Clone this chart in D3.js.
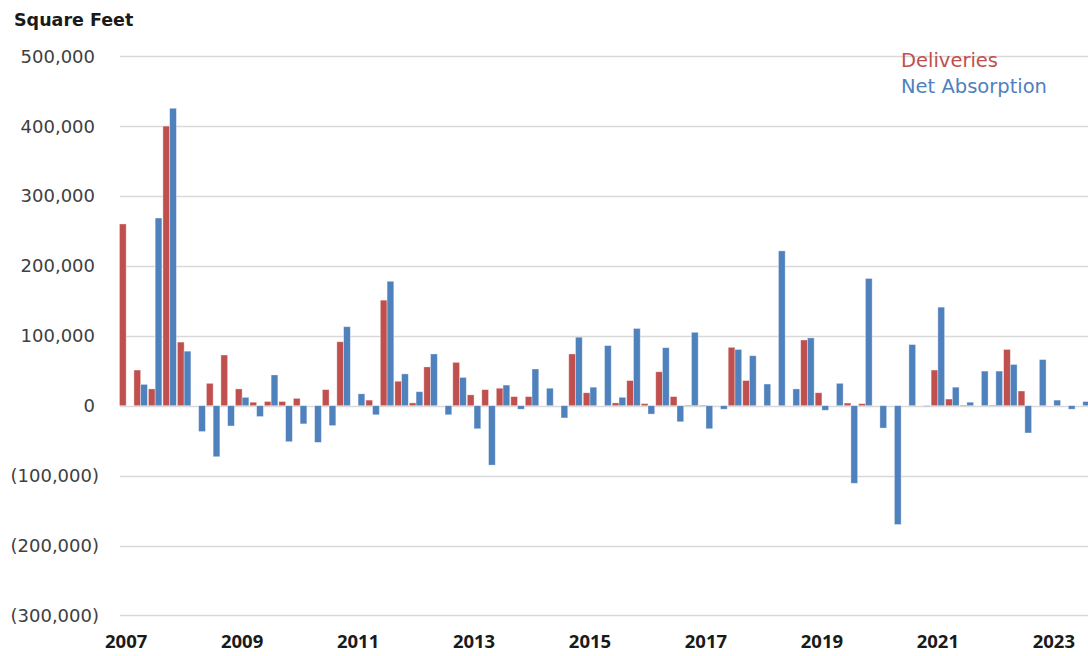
<!DOCTYPE html>
<html>
<head>
<meta charset="utf-8">
<script src="https://cdn.jsdelivr.net/npm/d3@7"></script>
<style>
  body { margin: 0; background: #fff; }
  svg { display: block; }
</style>
</head>
<body>
<div id="chart"></div>
<script>
// quarters 2007 Q1 .. 2023 Q3
const years = d3.range(2007, 2024);
const quarters = [];
years.forEach(y => [1, 2, 3, 4].forEach(q => quarters.push(`${y} Q${q}`)));
quarters.splice(67); // last quarter shown: 2023 Q3

const deliveries = [
  260000, 51000, 24000, 400000, 91000, 0, 32000, 72500, 24000, 5000,
  6000, 6000, 10500, 0, 23000, 91500, 0, 8000, 151000, 35000,
  4000, 55500, 0, 62000, 15500, 23000, 25000, 13000, 13000, 0,
  0, 74000, 18500, 0, 4000, 36000, 3000, 48500, 13000, 1000,
  1000, 0, 83500, 36000, 0, 0, 0, 94000, 18500, 0,
  3800, 2900, 0, 0, 0, 0, 51000, 9500, 1000, 0,
  1000, 80500, 21000, 0, 0, 0, 0
];

const absorption = [
  0, 30500, 268500, 425500, 78000, -37000, -73000, -29000, 12000, -15500,
  44000, -51500, -26000, -52500, -28500, 113000, 17000, -13000, 178000, 45500,
  20000, 74000, -13000, 40500, -33000, -85000, 29500, -5000, 52500, 25000,
  -17500, 98000, 26500, 86000, 12000, 110500, -12000, 83000, -23000, 105000,
  -33000, -5000, 80500, 71500, 31000, 221500, 24000, 97000, -6500, 32000,
  -111000, 182000, -32000, -170000, 87500, -1000, 141000, 26500, 5000, 49500,
  49500, 59000, -39000, 66000, 8000, -5000, 6000
];

const seriesNames = ["Deliveries", "Net Absorption"];
const seriesColors = ["#C0504D", "#4F81BD"];
const yTicks = [-300000, -200000, -100000, 0, 100000, 200000, 300000, 400000, 500000];
const yearLabels = ["2007", "2009", "2011", "2013", "2015", "2017", "2019", "2021", "2023"];

const width = 1088, height = 656;

const svg = d3.select("#chart")
  .append("svg")
  .attr("width", width)
  .attr("height", height);

const x = d3.scaleBand()
  .domain(quarters)
  .range([119, 1090])
  .paddingInner(0.07)
  .paddingOuter(0.03);

const xSub = d3.scaleBand()
  .domain(seriesNames)
  .range([0, x.bandwidth()]);

const y = d3.scaleLinear()
  .domain([-300000, 500000])
  .range([615.4, 56.2]);

// gridlines
svg.append("g")
  .selectAll("line")
  .data(yTicks)
  .join("line")
  .attr("x1", 120)
  .attr("x2", width)
  .attr("y1", d => Math.round(y(d)) + 0.5)
  .attr("y2", d => Math.round(y(d)) + 0.5)
  .attr("stroke", "#d9d9d9")
  .attr("stroke-width", 1.3);

// y tick labels (accounting style)
const fmt = d3.format(",");
svg.append("g")
  .selectAll("text")
  .data(yTicks)
  .join("text")
  .attr("x", d => d < 0 ? 99 : 95)
  .attr("y", d => y(d))
  .attr("dy", "0.36em")
  .attr("text-anchor", "end")
  .attr("font-family", "DejaVu Sans, sans-serif")
  .attr("font-size", 18)
  .attr("fill", "#404040")
  .text(d => d < 0 ? `(${fmt(-d)})` : fmt(d));

// bars
const rows = quarters.map((q, i) => ({ q, vals: [deliveries[i], absorption[i]] }));

const groups = svg.append("g")
  .selectAll("g")
  .data(rows)
  .join("g")
  .attr("transform", d => `translate(${x(d.q)},0)`);

groups.selectAll("rect")
  .data(d => d.vals.map((v, j) => ({ key: seriesNames[j], v, j })))
  .join("rect")
  .filter(d => d.v !== 0)
  .attr("x", d => xSub(d.key))
  .attr("width", xSub.bandwidth())
  .attr("y", d => y(Math.max(0, d.v)))
  .attr("height", d => Math.abs(y(d.v) - y(0)))
  .attr("fill", d => seriesColors[d.j])
  .attr("stroke", "#ffffff")
  .attr("stroke-opacity", 0.45)
  .attr("stroke-width", 0.8);

// x year labels
svg.append("g")
  .selectAll("text")
  .data(yearLabels)
  .join("text")
  .attr("x", d => x(`${d} Q1`) + x.bandwidth() / 2)
  .attr("y", 648)
  .attr("text-anchor", "middle")
  .attr("font-family", "Open Sans, sans-serif")
  .attr("font-weight", "bold")
  .attr("font-size", 18.5)
  .attr("fill", "#1a1a1a")
  .text(d => d);

// axis title
svg.append("text")
  .attr("x", 14)
  .attr("y", 26)
  .attr("font-family", "DejaVu Sans, sans-serif")
  .attr("font-weight", "bold")
  .attr("font-size", 17.5)
  .attr("fill", "#1a1a1a")
  .text("Square Feet");

// legend
svg.append("g")
  .selectAll("text")
  .data(seriesNames)
  .join("text")
  .attr("x", 901)
  .attr("y", (d, i) => 67 + i * 26)
  .attr("font-family", "DejaVu Sans, sans-serif")
  .attr("font-size", 19.5)
  .attr("fill", (d, i) => seriesColors[i])
  .text(d => d);
</script>
</body>
</html>
